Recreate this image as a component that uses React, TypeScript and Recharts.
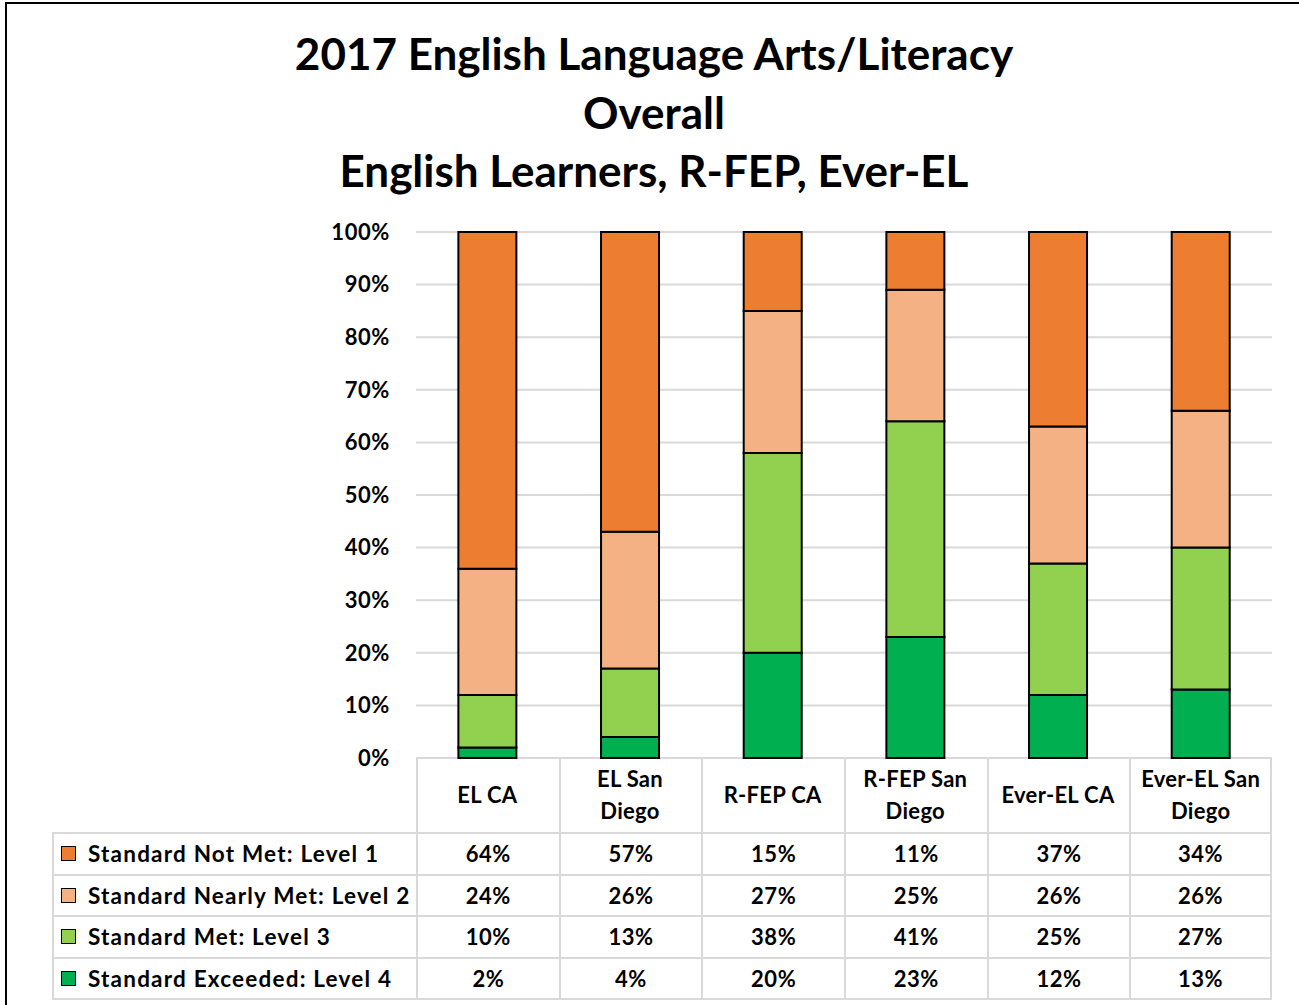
import { BarChart, Bar, XAxis, YAxis, CartesianGrid } from "recharts";

const categories = ["EL CA", "EL San Diego", "R-FEP CA", "R-FEP San Diego", "Ever-EL CA", "Ever-EL San Diego"];
const categoryLines = [["EL CA"], ["EL San", "Diego"], ["R-FEP CA"], ["R-FEP San", "Diego"], ["Ever-EL CA"], ["Ever-EL San", "Diego"]];
const notMet = [64, 57, 15, 11, 37, 34];
const nearlyMet = [24, 26, 27, 25, 26, 26];
const met = [10, 13, 38, 41, 25, 27];
const exceeded = [2, 4, 20, 23, 12, 13];
const yTicks = [0, 10, 20, 30, 40, 50, 60, 70, 80, 90, 100];

const series = [
  { key: "exceeded", name: "Standard Exceeded: Level 4", color: "#00B050", values: exceeded },
  { key: "met", name: "Standard Met: Level 3", color: "#92D050", values: met },
  { key: "nearlyMet", name: "Standard Nearly Met: Level 2", color: "#F4B183", values: nearlyMet },
  { key: "notMet", name: "Standard Not Met: Level 1", color: "#ED7D31", values: notMet },
];
const tableRows = [...series].reverse();

const data = categories.map((c, i) => ({
  name: c,
  exceeded: exceeded[i],
  met: met[i],
  nearlyMet: nearlyMet[i],
  notMet: notMet[i],
}));

const FONT = "Lato, 'Open Sans', sans-serif";
const GRID = "#D9D9D9";
const PLOT_LEFT = 416;
const PLOT_RIGHT = 1272;
const PLOT_TOP = 232;
const PLOT_BOTTOM = 758;
const HEADER_H = 74;
const ROW_H = 41.5;
const COL_W = (PLOT_RIGHT - PLOT_LEFT) / categories.length;

function CategoryTick({ x, index }: { x?: number; y?: number; index?: number }) {
  const lines = categoryLines[index ?? 0];
  const cy = PLOT_BOTTOM + HEADER_H / 2;
  const lh = 32;
  const start = cy - ((lines.length - 1) * lh) / 2;
  return (
    <text textAnchor="middle" fontFamily={FONT} fontWeight={700} fontSize={22} fill="#000" letterSpacing={0.3}>
      {lines.map((l, k) => (
        <tspan key={k} x={x} y={start + k * lh} dy="0.35em">
          {l}
        </tspan>
      ))}
    </text>
  );
}

export default function App() {
  return (
    <div style={{ position: "absolute", left: 0, top: 0, width: 1299, height: 1005, background: "#fff", overflow: "hidden", fontFamily: FONT }}>
      <div style={{ position: "absolute", left: 5, top: 2, width: 1300, height: 1010, borderLeft: "2px solid #000", borderTop: "2px solid #000" }} />
      <div style={{ position: "absolute", left: 0, top: 24, width: 1308, textAlign: "center", fontWeight: 700, fontSize: 44, lineHeight: "58.5px", color: "#000" }}>
        <div>2017 English Language Arts/Literacy</div>
        <div>Overall</div>
        <div>English Learners, R-FEP, Ever-EL</div>
      </div>
      <div style={{ position: "absolute", left: 0, top: 0 }}>
        <BarChart
          width={1299}
          height={1005}
          data={data}
          margin={{ top: PLOT_TOP, right: 1299 - PLOT_RIGHT, bottom: 1005 - PLOT_BOTTOM - HEADER_H, left: PLOT_LEFT - 80 }}
          barCategoryGap="29.7%"
        >
          <CartesianGrid vertical={false} stroke={GRID} strokeWidth={2} />
          <YAxis
            width={80}
            domain={[0, 100]}
            ticks={yTicks}
            tickFormatter={(v: number) => `${v}%`}
            axisLine={false}
            tickLine={false}
            tickMargin={20}
            tick={{ fill: "#000", fontSize: 22, fontWeight: 700, fontFamily: FONT, letterSpacing: 0.6 }}
          />
          <XAxis dataKey="name" height={HEADER_H} axisLine={false} tickLine={false} interval={0} tick={<CategoryTick />} />
          {series.map((s) => (
            <Bar key={s.key} dataKey={s.key} name={s.name} stackId="a" fill={s.color} stroke="#000" strokeWidth={2} isAnimationActive={false} />
          ))}
        </BarChart>
      </div>
      {/* header grid */}
      <div style={{ position: "absolute", left: PLOT_LEFT, top: PLOT_BOTTOM, display: "flex" }}>
        {categories.map((c, i) => (
          <div
            key={c}
            style={{
              width: COL_W,
              height: HEADER_H,
              boxSizing: "border-box",
              borderLeft: `2px solid ${GRID}`,
              borderRight: i === categories.length - 1 ? `2px solid ${GRID}` : undefined,
            }}
          />
        ))}
      </div>
      {/* data table */}
      <div style={{ position: "absolute", left: 52, top: PLOT_BOTTOM + HEADER_H }}>
        {tableRows.map((r) => (
          <div key={r.key} style={{ display: "flex", height: ROW_H, borderTop: `2px solid ${GRID}`, boxSizing: "border-box" }}>
            <div
              style={{
                width: PLOT_LEFT - 52,
                display: "flex",
                alignItems: "center",
                borderLeft: `2px solid ${GRID}`,
                boxSizing: "border-box",
                fontWeight: 700,
                fontSize: 22.5,
                letterSpacing: 1.2,
                whiteSpace: "nowrap",
              }}
            >
              <span style={{ display: "inline-block", width: 13, height: 13, background: r.color, border: "1.5px solid #000", marginLeft: 7, marginRight: 12 }} />
              {r.name}
            </div>
            {r.values.map((v, i) => (
              <div
                key={i}
                style={{
                  width: COL_W,
                  display: "flex",
                  alignItems: "center",
                  justifyContent: "center",
                  borderLeft: `2px solid ${GRID}`,
                  borderRight: i === r.values.length - 1 ? `2px solid ${GRID}` : undefined,
                  boxSizing: "border-box",
                  fontWeight: 700,
                  fontSize: 22,
                  letterSpacing: 0.5,
                }}
              >
                {v}%
              </div>
            ))}
          </div>
        ))}
        <div style={{ width: PLOT_RIGHT - 52, borderTop: `2px solid ${GRID}` }} />
      </div>
    </div>
  );
}
